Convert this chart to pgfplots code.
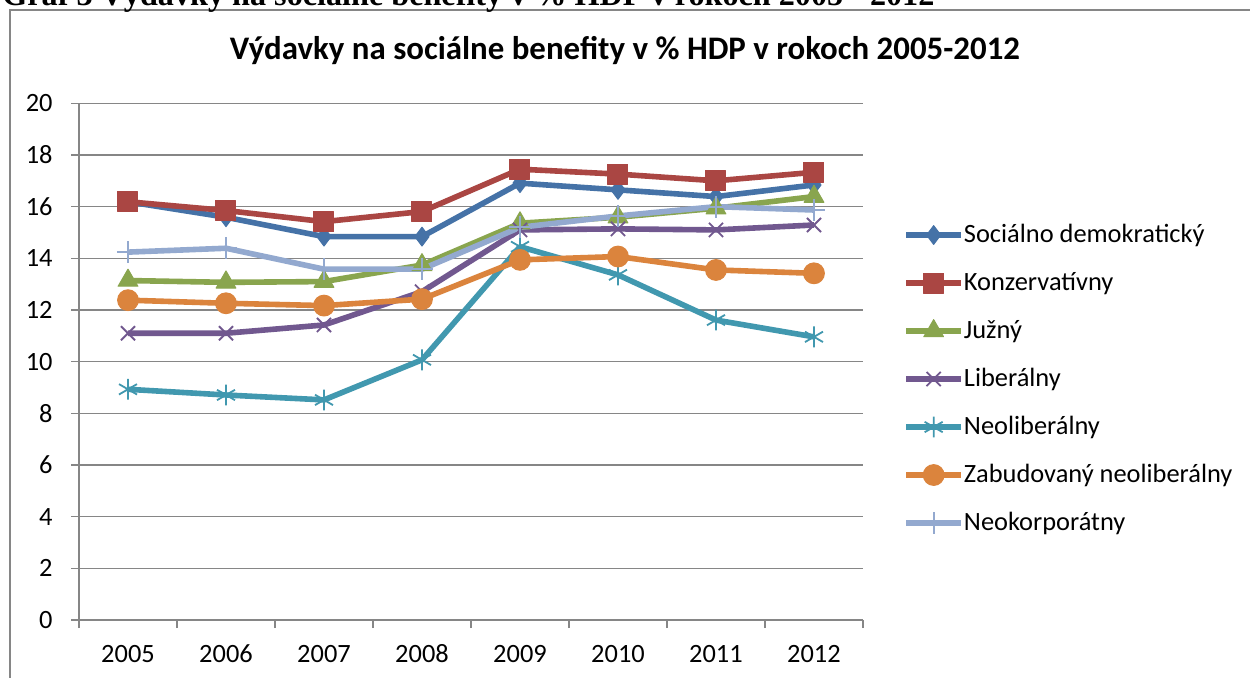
\documentclass[border=0pt]{standalone}
\usepackage{pgfplots}
\pgfplotsset{compat=1.18}
\usepackage{fontspec}
\usepackage{graphicx}
\setmainfont{Carlito}
\newfontfamily\capfont{Liberation Serif}
\definecolor{sdblue}{HTML}{4572A7}
\definecolor{kred}{HTML}{AA4643}
\definecolor{jgreen}{HTML}{89A54E}
\definecolor{lpurple}{HTML}{71588F}
\definecolor{nteal}{HTML}{4198AF}
\definecolor{zorange}{HTML}{DB843D}
\definecolor{nklblue}{HTML}{93A9CF}
\definecolor{gridgray}{HTML}{868686}
\begin{document}
\begin{tikzpicture}
\useasboundingbox (0pt,0pt) rectangle (625pt,-338.5pt);
\clip (0pt,0pt) rectangle (625pt,-338.5pt);
\fill[white] (0pt,0pt) rectangle (625pt,-338.5pt);
\draw[gridgray, line width=0.75pt] (5pt,-5pt) rectangle (640pt,-360pt);
\node[anchor=base west, inner sep=0pt] at (1pt,-2.5pt) {\resizebox{466pt}{!}{\capfont\bfseries Graf 3 Výdavky na sociálne benefity v \% HDP v rokoch 2005 - 2012}};
\node[anchor=base, inner sep=0pt] at (312.5pt,-29.5pt) {\resizebox{395pt}{!}{\bfseries Výdavky na sociálne benefity v \% HDP v rokoch 2005-2012}};
\begin{axis}[
  at={(39.5pt,-310pt)}, anchor=south west,
  scale only axis, width=392pt, height=258.35pt,
  xmin=-0.5, xmax=7.5, ymin=0, ymax=20,
  xtick={-0.5,0.5,...,7.5},
  x tick label as interval,
  xticklabels={2005,2006,2007,2008,2009,2010,2011,2012},
  ytick={0,2,...,20},
  axis x line*=bottom, axis y line*=left,
  axis line style={gridgray, line width=0.75pt, -},
  tick style={gridgray, line width=0.75pt},
  tick align=outside, major tick length=4pt,
  ymajorgrids, grid style={gridgray, line width=0.75pt},
  ticklabel style={font=\fontsize{13.2}{15}\selectfont, text=black},
  /pgf/number format/assume math mode=true,
  yticklabel style={anchor=east, inner sep=0pt},
  xticklabel style={anchor=north, inner sep=0pt, text height=8.5pt, text depth=0pt},
  yticklabel shift=9pt, xticklabel shift=8.5pt,
  clip=false,
  line join=round,
  every axis plot/.append style={line width=2.8pt},
  legend style={at={(1.051,0.4664)}, anchor=west, draw=none, fill=none,
    inner sep=0pt, row sep=11.4pt,
    font=\fontsize{13.2}{15}\selectfont,
    nodes={inner sep=0pt, text height=10.2pt, text depth=2.4pt},
    /tikz/every odd column/.append style={column sep=0pt}},
  legend cell align=left,
  legend image code/.code={\draw[mark repeat=2, mark phase=2] plot coordinates {(0pt,0pt) (13.75pt,0pt) (27.5pt,0pt)};},
]
\addplot[sdblue, mark=diamond*, mark size=4.7pt, mark options={solid, fill=sdblue, draw=sdblue, line width=0.5pt}] coordinates {
(0,16.19) (1,15.59) (2,14.84) (3,14.84) (4,16.91) (5,16.65) (6,16.39) (7,16.84)};
\addlegendentry{Sociálno demokratický}
\addplot[kred, mark=square*, mark size=5pt, mark options={solid, fill=kred, draw=kred, line width=0.5pt}] coordinates {
(0,16.19) (1,15.85) (2,15.42) (3,15.81) (4,17.45) (5,17.26) (6,17.00) (7,17.33)};
\addlegendentry{Konzervatívny}
\addplot[jgreen, mark=triangle*, mark size=5.7pt, mark options={solid, fill=jgreen, draw=jgreen, line width=0.5pt}] coordinates {
(0,13.14) (1,13.07) (2,13.10) (3,13.74) (4,15.36) (5,15.59) (6,15.94) (7,16.39)};
\addlegendentry{Južný}
\addplot[lpurple, mark=x, mark size=5pt, mark options={solid, line width=0.9pt}] coordinates {
(0,11.10) (1,11.10) (2,11.42) (3,12.71) (4,15.10) (5,15.14) (6,15.10) (7,15.29)};
\addlegendentry{Liberálny}
\addplot[nteal, mark=asterisk, mark size=5.2pt, mark options={solid, line width=0.9pt}] coordinates {
(0,8.93) (1,8.71) (2,8.52) (3,10.07) (4,14.45) (5,13.36) (6,11.61) (7,10.96)};
\addlegendentry{Neoliberálny}
\addplot[zorange, mark=*, mark size=5.2pt, mark options={solid, fill=zorange, draw=zorange, line width=0.5pt}] coordinates {
(0,12.38) (1,12.26) (2,12.17) (3,12.42) (4,13.94) (5,14.07) (6,13.55) (7,13.42)};
\addlegendentry{Zabudovaný neoliberálny}
\addplot[nklblue, mark=+, mark size=5.5pt, mark options={solid, line width=0.9pt}] coordinates {
(0,14.24) (1,14.39) (2,13.58) (3,13.58) (4,15.20) (5,15.64) (6,16.00) (7,15.87)};
\addlegendentry{Neokorporátny}
\end{axis}
\end{tikzpicture}
\end{document}
